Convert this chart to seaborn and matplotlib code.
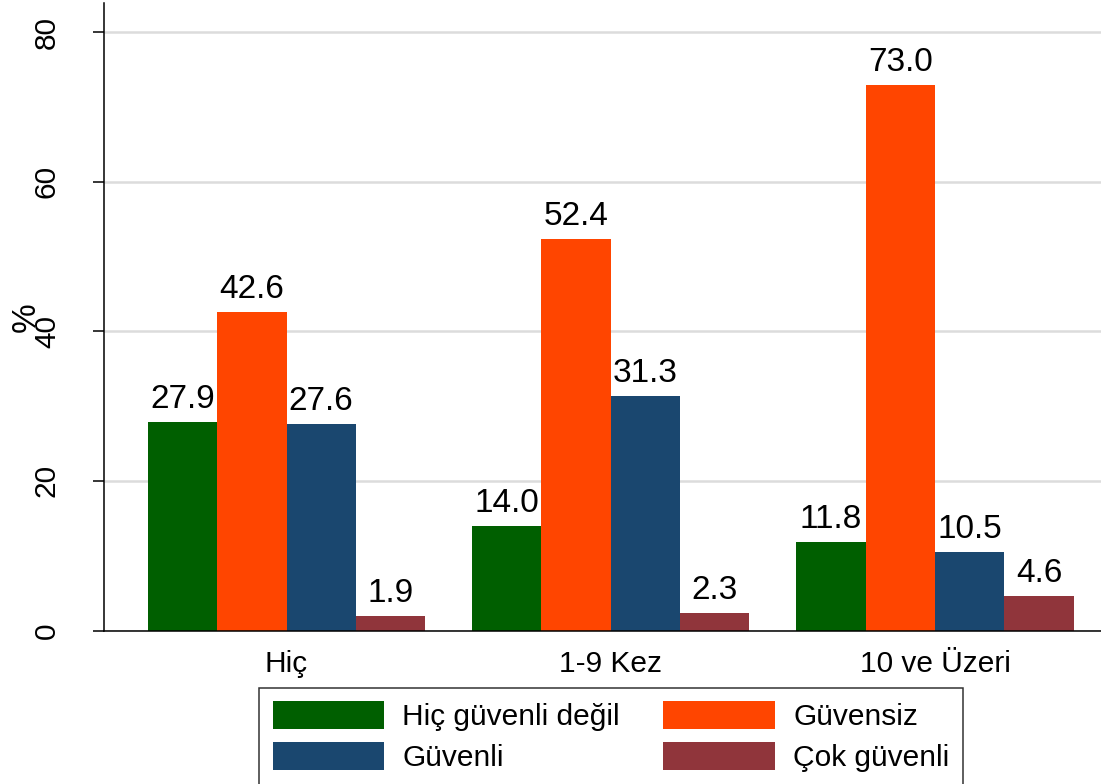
import matplotlib

matplotlib.use("Agg")
import matplotlib.pyplot as plt
import pandas as pd
import seaborn as sns

groups = ["Hiç", "1-9 Kez", "10 ve Üzeri"]
levels = ["Hiç güvenli değil", "Güvensiz", "Güvenli", "Çok güvenli"]
hic_guvenli_degil = [27.9, 14.0, 11.8]
guvensiz = [42.6, 52.4, 73.0]
guvenli = [27.6, 31.3, 10.5]
cok_guvenli = [1.9, 2.3, 4.6]
colors = ["#005f00", "#ff4500", "#1a476f", "#90353b"]
y_ticks = [0, 20, 40, 60, 80]

frame = pd.DataFrame(
    {
        "group": groups * len(levels),
        "level": [level for level in levels for _ in groups],
        "value": hic_guvenli_degil + guvensiz + guvenli + cok_guvenli,
    }
)

sns.set_style("white")
plt.rcParams["font.family"] = ["Liberation Sans", "DejaVu Sans"]
plt.rcParams["text.color"] = "black"
plt.rcParams["xtick.color"] = "black"
plt.rcParams["ytick.color"] = "black"
plt.rcParams["axes.labelcolor"] = "black"

figure = plt.figure(figsize=(11.01, 7.84), dpi=100)
axis = figure.add_axes([104 / 1101, 1 - 630.5 / 784, 997 / 1101, 627.5 / 784])
sns.barplot(
    data=frame,
    x="group",
    y="value",
    hue="level",
    order=groups,
    hue_order=levels,
    palette=colors,
    width=0.855,
    gap=0,
    saturation=1,
    linewidth=0,
    errorbar=None,
    ax=axis,
)

for container in axis.containers:
    axis.bar_label(container, fmt="%.1f", padding=5, fontsize=24, color="black")

axis.set_xlim(-0.563, 2.512)
axis.set_ylim(0, 83.9)
axis.set_yticks(y_ticks)
axis.set_xlabel("")
axis.set_ylabel("%", fontsize=24)
axis.yaxis.set_label_coords(-0.062, 0.5)

axis.grid(axis="y", color="#dcdcdc", linewidth=1.8)
axis.set_axisbelow(True)
for side in ["top", "right"]:
    axis.spines[side].set_visible(False)
for side in ["left", "bottom"]:
    axis.spines[side].set_color("black")
    axis.spines[side].set_linewidth(1.1)

axis.tick_params(axis="x", length=0, pad=14, labelsize=21.5)
axis.tick_params(
    axis="y", length=8, width=1.1, direction="out", color="black",
    pad=23, labelsize=21.5, labelrotation=90, left=True,
)
plt.setp(axis.get_yticklabels(), va="center")

handles, labels = axis.get_legend_handles_labels()
axis.get_legend().remove()
order = [0, 2, 1, 3]
legend = figure.legend(
    [handles[i] for i in order],
    [labels[i] for i in order],
    loc="upper center",
    bbox_to_anchor=(611 / 1101, 1 - 688 / 784),
    ncol=2,
    fontsize=21.5,
    handlelength=3.75,
    handleheight=1.05,
    handletextpad=0.6,
    columnspacing=1.45,
    labelspacing=0.36,
    borderpad=0.45,
    borderaxespad=0,
    fancybox=False,
    frameon=True,
)
legend.get_frame().set_edgecolor("black")
legend.get_frame().set_linewidth(1.1)

figure.savefig("out.png", dpi=100)
plt.close(figure)
